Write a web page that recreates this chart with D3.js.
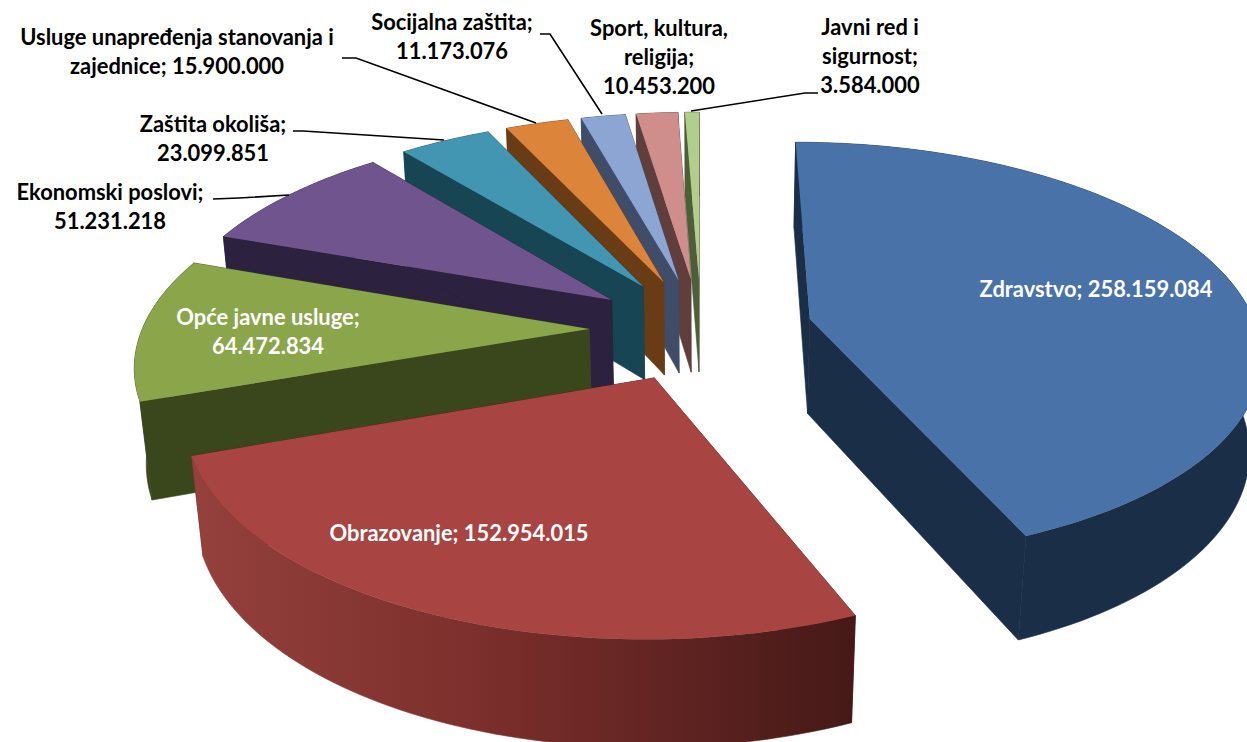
<!DOCTYPE html>
<html>
<head>
<meta charset="utf-8">
<script src="https://cdn.jsdelivr.net/npm/d3@7"></script>
<style>
  html, body { margin: 0; padding: 0; background: #fff; }
  svg { display: block; }
  text { font-family: Lato, "Noto Sans", sans-serif; font-weight: 700; font-size: 21.9px; text-anchor: middle; }
</style>
</head>
<body>
<svg id="chart" width="1247" height="742"></svg>
<script>
const categories = ["Zdravstvo", "Obrazovanje", "Opće javne usluge", "Ekonomski poslovi", "Zaštita okoliša",
    "Usluge unapređenja stanovanja i zajednice", "Socijalna zaštita", "Sport, kultura, religija", "Javni red i sigurnost"];
const values = [258159084, 152954015, 64472834, 51231218, 23099851, 15900000, 11173076, 10453200, 3584000];
const valueLabels = ["258.159.084", "152.954.015", "64.472.834", "51.231.218", "23.099.851", "15.900.000", "11.173.076", "10.453.200", "3.584.000"];

const topColors = ["#4872a8", "#a84442", "#8ba54b", "#6f548e", "#4296b1", "#dc8439", "#8da5d2", "#cf8e8b", "#b3cd8d"];
const wallColors = ["#1b2e47", "#5a1f1c", "#3a471d", "#2c213f", "#184553", "#6a3c15", "#3f4d68", "#5f3e3c", "#4d5e38"];

const labelLines = [
    ["Zdravstvo; 258.159.084"],
    ["Obrazovanje; 152.954.015"],
    ["Opće javne usluge;", "64.472.834"],
    ["Ekonomski poslovi;", "51.231.218"],
    ["Zaštita okoliša;", "23.099.851"],
    ["Usluge unapređenja stanovanja i", "zajednice; 15.900.000"],
    ["Socijalna zaštita;", "11.173.076"],
    ["Sport, kultura,", "religija;", "10.453.200"],
    ["Javni red i", "sigurnost;", "3.584.000"]
];
const labelX = [1096, 459, 268, 110, 213, 177, 452, 659, 870];
const labelY = [297, 541, 325, 200, 132, 45, 30, 36, 35];
const labelColor = ["#fff", "#fff", "#fff", "#000", "#000", "#000", "#000", "#000", "#000"];
const leaders = [
    null, null, null,
    [[213, 199], [239, 198], [289, 195]],
    [[293, 131], [303, 131], [444, 140]],
    [[342, 58], [356, 58], [536, 123]],
    [[540, 34], [550, 34], [602, 114]],
    null,
    [[691, 111], [805, 93], [818, 93]]
];

// fake 3d camera for the pie
const explode = 0.25, persp = 0.15, drop = 97, under = 0.021;
const xs = d3.scaleLinear().domain([0, 1]).range([701, 1148]);
const ys = d3.scaleLinear().domain([0, 1]).range([329, 535]);

function project(X, Y, low) {
    const w = 1 - persp * Y + (low ? under : 0);
    return [xs(X / w), ys(Y / w) + (low ? drop / w : 0)];
}

const svg = d3.select("#chart");
const defs = svg.append("defs");
const line = d3.line();
const arcs = d3.pie().sort(null).value(d => d)(values);

// obrazovanje has the only visibly shaded outer wall
const grad = defs.append("linearGradient").attr("id", "wallGrad")
    .attr("gradientUnits", "userSpaceOnUse").attr("x1", 200).attr("x2", 855).attr("y1", 0).attr("y2", 0);
grad.append("stop").attr("offset", 0).attr("stop-color", "#94403c");
grad.append("stop").attr("offset", 0.45).attr("stop-color", "#7a2e2b");
grad.append("stop").attr("offset", 1).attr("stop-color", "#451917");

// back slices first, obrazovanje last
const drawOrder = [8, 7, 6, 5, 4, 3, 2, 0, 1];

drawOrder.forEach(i => {
    const a = arcs[i];
    const mid = (a.startAngle + a.endAngle) / 2;
    const ax = explode * Math.sin(mid), ay = -explode * Math.cos(mid);
    const n = Math.max(4, Math.ceil((a.endAngle - a.startAngle) * 40));
    const rim = d3.range(n + 1).map(k => {
        const t = a.startAngle + (a.endAngle - a.startAngle) * k / n;
        return [ax + Math.sin(t), ay - Math.cos(t)];
    });
    const g = svg.append("g");
    const first = rim[0], last = rim[n];
    const side = i === 1 ? "url(#wallGrad)" : wallColors[i];

    const face = p => line([project(ax, ay, false), project(p[0], p[1], false), project(p[0], p[1], true), project(ax, ay, true)]) + "Z";
    g.append("path").attr("d", face(first)).attr("fill", wallColors[i]).attr("stroke", wallColors[i]).attr("stroke-width", 0.6);
    g.append("path").attr("d", face(last)).attr("fill", wallColors[i]).attr("stroke", wallColors[i]).attr("stroke-width", 0.6);

    const wall = rim.map(p => project(p[0], p[1], false)).concat(rim.slice().reverse().map(p => project(p[0], p[1], true)));
    g.append("path").attr("d", line(wall) + "Z").attr("fill", side).attr("stroke", side).attr("stroke-width", 0.6);

    const top = [project(ax, ay, false)].concat(rim.map(p => project(p[0], p[1], false)));
    g.append("path").attr("d", line(top) + "Z").attr("fill", topColors[i]);
});

leaders.forEach(pts => {
    if (!pts) return;
    svg.append("path").attr("d", line(pts)).attr("fill", "none").attr("stroke", "#000").attr("stroke-width", 1.6);
});

labelLines.forEach((lines, i) => {
    const t = svg.append("text").attr("fill", labelColor[i]);
    lines.forEach((s, k) => {
        t.append("tspan").attr("x", labelX[i]).attr("y", labelY[i] + k * 29).text(s);
    });
});
</script>
</body>
</html>
